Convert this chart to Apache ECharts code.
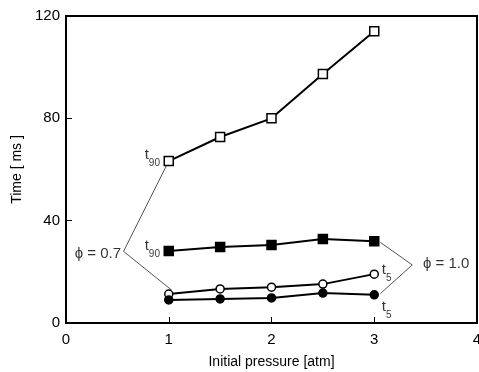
<!DOCTYPE html>
<html>
<head>
<meta charset="utf-8">
<script src="https://cdn.jsdelivr.net/npm/echarts@6/dist/echarts.min.js"></script>
<style>
  html, body { margin: 0; padding: 0; background: #fff; }
  #chart { width: 479px; height: 372px; }
</style>
</head>
<body>
<div id="chart"></div>
<script>
// pressure values (atm)
const pressure = [1, 1.5, 2, 2.5, 3];

// phi = 0.7
const t90Phi07 = [63.3, 72.7, 80, 97.3, 114];
const t5Phi07  = [11.3, 13.3, 14, 15.2, 19.1];
// phi = 1.0
const t90Phi10 = [28.1, 29.7, 30.5, 32.8, 32];
const t5Phi10  = [9, 9.4, 9.8, 11.7, 11];

const xTicks = [0, 1, 2, 3, 4];
const yTicks = [0, 40, 80, 120];

// leader lines from the phi labels
const leader07 = [[1, 63.3], [0.56, 28], [1.03, 12.8]];
const leader10 = [[3.06, 31.5], [3.37, 22.7], [3.06, 11.5]];

// text labels [x, y, text]
const notes = [
  [0.84, 64.5, '{t|t}{s|90}'],
  [0.84, 29.0, '{t|t}{s|90}'],
  [3.12, 19.5, '{t|t}{s|5}'],
  [3.12, 5.0, '{t|t}{s|5}'],
  [0.31, 27.0, '{p|ϕ = 0.7}'],
  [3.70, 23.0, '{p|ϕ = 1.0}']
];

const font = 'Liberation Sans, Arial, sans-serif';

function pairs(ys) {
  return pressure.map((x, i) => [x, ys[i]]);
}

function dataLine(ys, symbol, filled, size) {
  return {
    type: 'line',
    data: pairs(ys),
    symbol: symbol,
    symbolSize: size,
    showAllSymbol: true,
    lineStyle: { color: '#000', width: 2 },
    itemStyle: { color: filled ? '#000' : '#fff', borderColor: '#000', borderWidth: 1.5 },
    z: 3,
    animation: false
  };
}

function leader(pts) {
  return {
    type: 'line',
    data: pts,
    symbol: 'none',
    lineStyle: { color: '#555', width: 1 },
    z: 2,
    animation: false
  };
}

const chart = echarts.init(document.getElementById('chart'));
chart.setOption({
  backgroundColor: '#fff',
  grid: { left: 66, right: 2, top: 16, bottom: 49, outerBoundsMode: 'none', containLabel: false },
  xAxis: {
    type: 'value', min: 0, max: 4, interval: 1,
    name: 'Initial pressure [atm]', nameLocation: 'middle', nameGap: 32,
    nameTextStyle: { fontFamily: font, fontSize: 14, color: '#000' },
    axisLine: { lineStyle: { color: '#000', width: 2 } },
    axisTick: { inside: true, length: 6, lineStyle: { color: '#000' } },
    axisLabel: { fontFamily: font, fontSize: 15, color: '#000', margin: 9,
      formatter: v => xTicks.includes(v) ? String(v) : '' },
    splitLine: { show: false }
  },
  yAxis: {
    type: 'value', min: 0, max: 120, interval: 40,
    name: 'Time [ ms ]', nameLocation: 'middle', nameGap: 38,
    nameTextStyle: { fontFamily: font, fontSize: 14, color: '#000' },
    axisLine: { lineStyle: { color: '#000', width: 2 } },
    axisTick: { inside: true, length: 6, lineStyle: { color: '#000' } },
    axisLabel: { fontFamily: font, fontSize: 15, color: '#000', margin: 6,
      formatter: v => yTicks.includes(v) ? String(v) : '' },
    splitLine: { show: false }
  },
  series: [
    dataLine(t90Phi07, 'rect', false, 9),
    dataLine(t5Phi07, 'circle', false, 8),
    dataLine(t90Phi10, 'rect', true, 9),
    dataLine(t5Phi10, 'circle', true, 8),
    leader(leader07),
    leader(leader10),
    {
      type: 'scatter',
      data: notes,
      symbolSize: 0,
      silent: true,
      animation: false,
      label: {
        show: true,
        position: 'inside',
        formatter: p => p.data[2],
        rich: {
          t: { fontFamily: font, fontSize: 15, color: '#000', verticalAlign: 'top', padding: [0, 0, 6, 0] },
          s: { fontFamily: font, fontSize: 10, color: '#000', verticalAlign: 'bottom', padding: [6, 0, 0, 0] },
          p: { fontFamily: font, fontSize: 15, color: '#000' }
        }
      }
    }
  ]
});

// frame: top and right borders
const g = chart.getModel().getComponent('grid').coordinateSystem.getRect();
chart.setOption({
  graphic: [{
    type: 'rect',
    shape: { x: g.x, y: g.y, width: g.width, height: g.height },
    style: { fill: 'none', stroke: '#000', lineWidth: 2 },
    silent: true, z: 1
  }]
});
</script>
</body>
</html>
